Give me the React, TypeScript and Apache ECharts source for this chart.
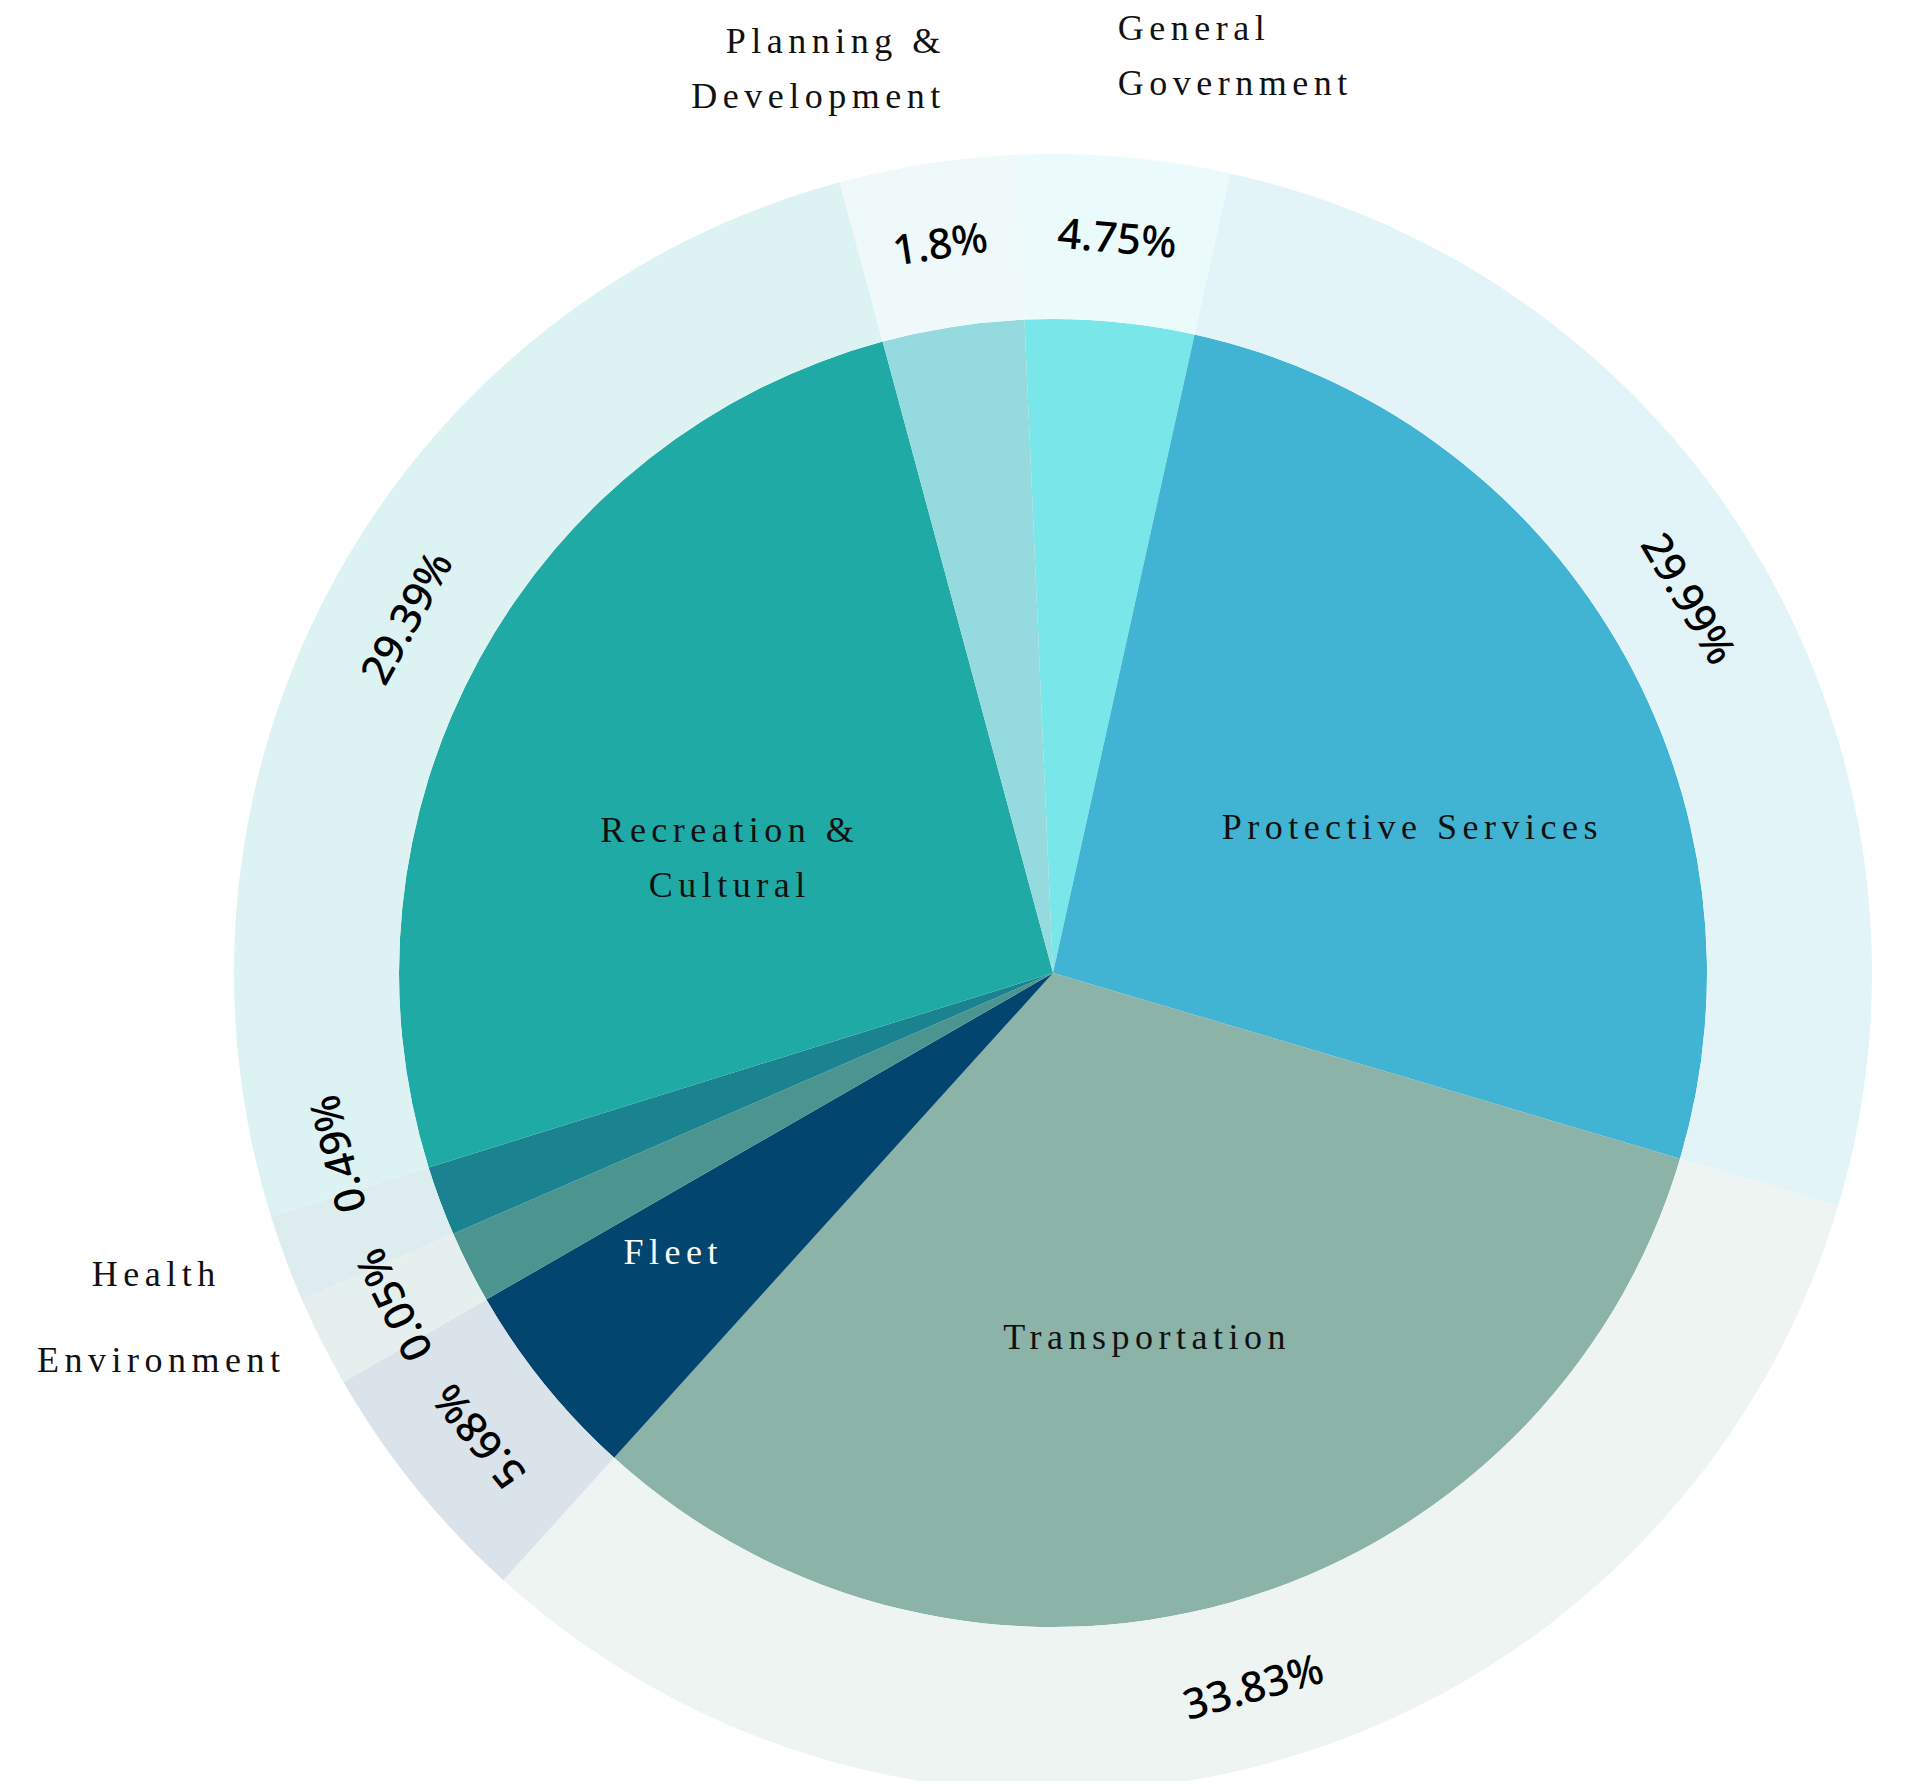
import React, { useEffect, useRef } from 'react';
import * as echarts from 'echarts';

// ---- data ----
const categories = [
  'General Government',
  'Protective Services',
  'Transportation',
  'Fleet',
  'Environment',
  'Health',
  'Recreation & Cultural',
  'Planning & Development',
];
const nameLabels = [
  'General\nGovernment',
  'Protective Services',
  'Transportation',
  'Fleet',
  'Environment',
  'Health',
  'Recreation &\nCultural',
  'Planning &\nDevelopment',
];
// size of each slice (degrees of the circle, as drawn)
const sliceDegrees = [15.0, 94.0, 115.65, 17.9, 6.45, 6.2, 92.2, 12.6];
// percentage printed in the outer ring
const sharePercents = [4.75, 29.99, 33.83, 5.68, 0.05, 0.49, 29.39, 1.8];
const colors = ['#79E6E9', '#41B4D3', '#8BB3A8', '#02466F', '#4B9490', '#1B8290', '#1FAAA5', '#95DADE'];

// ---- layout / styling ----
const W = 1890;
const H = 1773;
const CX = 1045;
const CY = 965;
const R_IN = 654;
const R_OUT = 819;
const START = -2.5; // clockwise from 12 o'clock
const RING_TINT = 0.15;

const namePlacement = [
  { pos: 'outside', dx: -19, dy: -17, color: '#111' },
  { pos: 'inside', dx: 75, dy: 21, color: '#111' },
  { pos: 'inside', dx: 5, dy: 46, color: '#111' },
  { pos: 'inside', dx: -123, dy: 72, color: '#ffffff' },
  { pos: 'outside', dx: 45, dy: -20, color: '#111' },
  { pos: 'outside', dx: 20, dy: -14, color: '#111' },
  { pos: 'inside', dx: -34, dy: 43, color: '#111' },
  { pos: 'outside', dx: 36, dy: -11, color: '#111' },
];
const pctShift = [0, 0, 0, 0, 0, 6.2, 0, 0];

function tint(hex: string, a: number) {
  const n = parseInt(hex.slice(1), 16);
  const ch = [(n >> 16) & 255, (n >> 8) & 255, n & 255].map((v) => Math.round(v * a + 255 * (1 - a)));
  return `rgb(${ch[0]},${ch[1]},${ch[2]})`;
}
const ringColors = colors.map((c) => tint(c, RING_TINT));

const total = sliceDegrees.reduce((a, b) => a + b, 0);
let acc = 0;
const midAngles = sliceDegrees.map((v) => {
  const m = START + ((acc + v / 2) / total) * 360;
  acc += v;
  return m;
});
const ringRotate = midAngles.map((m) => {
  const t = ((m % 360) + 360) % 360;
  let r = -t;
  if (t > 90 && t < 200) r += 180;
  return r;
});

export default function App() {
  const ref = useRef<HTMLDivElement>(null);
  useEffect(() => {
    if (!ref.current) return;
    const chart = echarts.init(ref.current, null, { renderer: 'svg' });
    const rm = (R_IN + R_OUT) / 2 + 3;
    chart.setOption({
      animation: false,
      backgroundColor: '#ffffff',
      series: [
        {
          type: 'pie',
          name: 'inner',
          center: [CX, CY],
          radius: [0, R_IN],
          startAngle: 90 - START,
          clockwise: true,
          avoidLabelOverlap: false,
          emphasis: { disabled: true },
          itemStyle: { borderWidth: 0 },
          labelLine: { show: false, length: 250, length2: 0 },
          label: {
            fontFamily: 'Liberation Serif',
            fontSize: 36,
            lineHeight: 55,
            color: '#111',
          },
          labelLayout: (p: any) => {
            const pl = namePlacement[p.dataIndex];
            return { dx: pl.dx, dy: pl.dy };
          },
          data: categories.map((c, i) => ({
            name: c,
            value: sliceDegrees[i],
            itemStyle: { color: colors[i] },
            label: {
              show: true,
              position: namePlacement[i].pos,
              formatter: nameLabels[i],
              color: namePlacement[i].color,
            },
          })),
        },
        {
          type: 'pie',
          name: 'ring',
          center: [CX, CY],
          radius: [R_IN, R_OUT],
          startAngle: 90 - START,
          clockwise: true,
          avoidLabelOverlap: false,
          emphasis: { disabled: true },
          itemStyle: { borderWidth: 0 },
          labelLine: { show: false },
          label: {
            show: true,
            position: 'inside',
            fontFamily: 'Noto Sans',
            fontWeight: 500,
            fontSize: 42,
            color: '#000',
          },
          labelLayout: (p: any) => {
            const i = p.dataIndex;
            const s = pctShift[i];
            if (!s) return {};
            const a1 = ((midAngles[i] + s) * Math.PI) / 180;
            return {
              x: CX + rm * Math.sin(a1),
              y: CY - rm * Math.cos(a1),
              rotate: -(midAngles[i] + s),
            };
          },
          data: categories.map((c, i) => ({
            name: c,
            value: sliceDegrees[i],
            itemStyle: { color: ringColors[i] },
            label: { formatter: `${sharePercents[i]}%`, rotate: ringRotate[i] },
          })),
        },
      ],
    });
    // widen the serif category names like the reference
    ref.current.querySelectorAll('text').forEach((t) => {
      const st = (t.getAttribute('style') || '') + (t.getAttribute('font-family') || '');
      if (st.indexOf('Serif') >= 0) t.setAttribute('letter-spacing', '5.5');
    });
    return () => chart.dispose();
  }, []);
  return <div ref={ref} style={{ width: W, height: H }} />;
}
